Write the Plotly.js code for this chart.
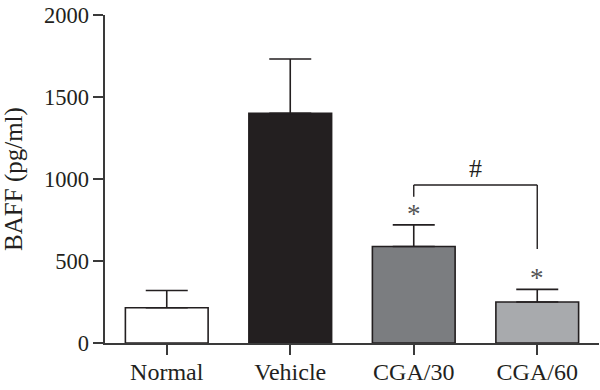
<!DOCTYPE html>
<html>
<head>
<meta charset="utf-8">
<script src="https://cdn.plot.ly/plotly-3.0.1.min.js"></script>
<style>html,body{margin:0;padding:0;background:#fff}#chart{width:600px;height:390px}</style>
</head>
<body>
<div id="chart"></div>
<script>
const categories = ["Normal", "Vehicle", "CGA/30", "CGA/60"];
const means = [215, 1400, 588, 250];
const errorTops = [320, 1732, 720, 327];
const fillColors = ["#ffffff", "#231f20", "#7b7d80", "#a8aaad"];
const yTicks = [0, 500, 1000, 1500, 2000];
const sigMarks = ["", "", "*", "*"];

const ink = "#231f20";
const font = "Liberation Serif, Times New Roman, serif";

const trace = {
  type: "bar",
  x: categories,
  y: means,
  width: 0.67,
  marker: { color: fillColors, line: { color: ink, width: 1.6 } },
  error_y: {
    type: "data",
    symmetric: false,
    array: means.map((m, i) => errorTops[i] - m),
    arrayminus: means.map(() => 0),
    color: ink,
    thickness: 1.6,
    width: 21
  },
  hoverinfo: "none"
};

const annotations = [];
sigMarks.forEach((s, i) => {
  if (s) {
    annotations.push({
      x: i, y: errorTops[i] + 68, xref: "x", yref: "y",
      text: s, showarrow: false,
      font: { family: font, size: 27, color: "#555" }
    });
  }
});
const bracketTop = errorTops[2] + 243;
annotations.push({
  x: 2.5, y: bracketTop + 102, xref: "x", yref: "y",
  text: "#", showarrow: false,
  font: { family: font, size: 26, color: ink }
});

const shapes = [
  { type: "line", xref: "x", yref: "y", x0: 2, x1: 3, y0: bracketTop, y1: bracketTop, line: { color: ink, width: 1.4 } },
  { type: "line", xref: "x", yref: "y", x0: 2, x1: 2, y0: bracketTop, y1: errorTops[2] + 172, line: { color: ink, width: 1.4 } },
  { type: "line", xref: "x", yref: "y", x0: 3, x1: 3, y0: bracketTop, y1: errorTops[3] + 246, line: { color: ink, width: 1.4 } }
];

const layout = {
  width: 600, height: 390,
  margin: { l: 105, r: 1, t: 15, b: 47 },
  paper_bgcolor: "#fff", plot_bgcolor: "#fff",
  showlegend: false,
  font: { family: font, color: ink, size: 22 },
  xaxis: {
    type: "category",
    range: [-0.5, 3.5],
    showline: true, linecolor: "#3a3a3a", linewidth: 1.6,
    ticks: "outside", ticklen: 10, tickwidth: 1.6, tickcolor: "#3a3a3a",
    showgrid: false, zeroline: false,
    tickfont: { family: font, size: 24, color: ink },
    ticklabelstandoff: -3,
    fixedrange: true
  },
  yaxis: {
    range: [0, 2000],
    tickvals: yTicks,
    ticktext: yTicks.map(String),
    showline: true, linecolor: "#3a3a3a", linewidth: 1.6,
    ticks: "outside", ticklen: 10, tickwidth: 1.6, tickcolor: "#3a3a3a",
    showgrid: false, zeroline: false,
    tickfont: { family: font, size: 22.5, color: ink },
    title: { text: "BAFF (pg/ml)", font: { family: font, size: 25, color: ink }, standoff: 14 },
    fixedrange: true
  },
  annotations: annotations,
  shapes: shapes
};

Plotly.newPlot("chart", [trace], layout, { staticPlot: true, displayModeBar: false });
</script>
</body>
</html>
